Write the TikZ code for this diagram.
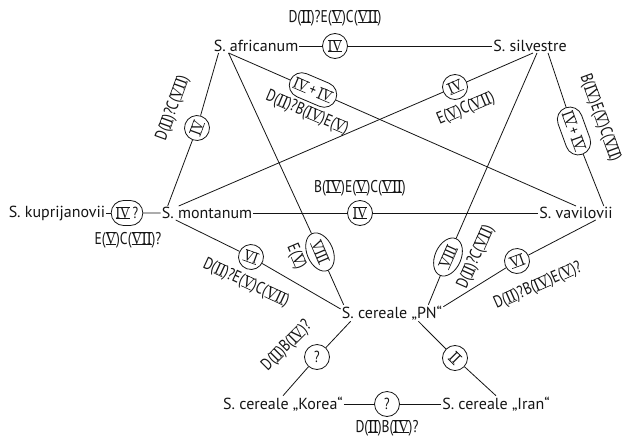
\documentclass[tikz,border=0pt]{standalone}
\usepackage{fontspec}
\setmainfont{PT Sans}
\newfontfamily\codefont[FakeStretch=0.8]{PT Sans}
\newfontfamily\numfont[FakeStretch=0.85]{Liberation Serif}
\usepackage{tikz}
\usetikzlibrary{shapes.geometric,shapes.misc}
\definecolor{ink}{HTML}{151515}
\definecolor{paper}{HTML}{FFFFFF}
\newsavebox\rnbox
\newcommand{\rn}[1]{\sbox\rnbox{\numfont #1}%
  \rlap{\rule[-0.6pt]{\wd\rnbox}{0.6pt}}%
  \rlap{\rule[\ht\rnbox]{\wd\rnbox}{0.6pt}}\usebox\rnbox}
\tikzset{
  species/.style={inner sep=1pt,text=ink,font=\fontsize{16}{18}\selectfont},
  code/.style={inner sep=0pt,text=ink,font=\codefont\fontsize{17}{19}\selectfont},
  ring/.style={draw=ink,circle,line width=0.8pt,minimum size=25pt,inner sep=0pt,text=ink,font=\codefont\fontsize{16}{18}\selectfont},
  oval/.style={draw=ink,ellipse,line width=0.8pt,minimum width=40pt,minimum height=26pt,inner sep=0pt,text=ink,font=\codefont\fontsize{16}{18}\selectfont},
  pill/.style={draw=ink,rounded rectangle,line width=0.8pt,minimum height=25pt,inner xsep=3pt,inner ysep=0pt,text=ink,font=\codefont\fontsize{16}{18}\selectfont},
  link/.style={draw=ink,line width=0.8pt}
}

\begin{document}
\begin{tikzpicture}[x=1pt,y=-1pt]
  \fill[paper] (0,0) rectangle (623,439);
  \useasboundingbox (0,0) rectangle (623,439);
  % species
  \node[species] (afr) at (256,46) {S. africanum};
  \node[species] (sil) at (530,46) {S. silvestre};
  \node[species] (kup) at (57,213) {S. kuprijanovii};
  \node[species] (mon) at (207,213) {S. montanum};
  \node[species] (vav) at (576,213) {S. vavilovii};
  \node[species] (pn) at (392,313) {S. cereale „PN“};
  \node[species] (kor) at (283,404) {S. cereale „Korea“};
  \node[species] (iran) at (496,404) {S. cereale „Iran“};
  % genome marks on the links
  \node[ring] (c1) at (335,46) {\rn{IV}};
  \node[ring,rotate=70] (c2) at (197,128) {\rn{IV}};
  \node[oval,rotate=-67] (c3) at (320,252) {\rn{VIII}};
  \node[pill,rotate=-23] (c4) at (313,90) {\rn{IV}\,+\,\rn{IV}};
  \node[ring,rotate=23] (c5) at (455,87) {\rn{IV}};
  \node[oval,rotate=66] (c6) at (448,257) {\rn{VIII}};
  \node[pill,rotate=-70] (c7) at (574,131) {\rn{IV}\,+\,\rn{IV}};
  \node[pill] (c8) at (127,213) {\rn{IV}\,?};
  \node[ring] (c9) at (360,213) {\rn{IV}};
  \node[ring,rotate=-20] (c10) at (251,257) {\rn{VI}};
  \node[ring,rotate=20] (c11) at (517,261) {\rn{VI}};
  \node[ring] (c12) at (317,357) {?};
  \node[ring,rotate=-45] (c13) at (455,358) {\rn{II}};
  \node[ring] (c14) at (387,404) {?};
  % chromosome labels
  \node[code] (l1) at (335,18) {D(\rn{II})?E(\rn{V})C(\rn{VII})};
  \node[code,rotate=70] (l2) at (173,108) {D(\rn{II})?C(\rn{VII})};
  \node[code,rotate=-67] (l3) at (296,257) {E(\rn{V})};
  \node[code,rotate=-23] (l4) at (307,113) {D(\rn{II})?B(\rn{IV})E(\rn{V})};
  \node[code,rotate=23] (l5) at (466,109) {E(\rn{V})C(\rn{VII})};
  \node[code,rotate=66] (l6) at (476,257) {D(\rn{II})?C(\rn{VII})};
  \node[code,rotate=-70] (l7) at (600,118) {B(\rn{IV})E(\rn{V})C(\rn{VII})};
  \node[code] (l8) at (128,240) {E(\rn{V})C(\rn{VII})?};
  \node[code] (l9) at (360,188) {B(\rn{IV})E(\rn{V})C(\rn{VII})};
  \node[code,rotate=-25] (l10) at (246,283) {D(\rn{II})?E(\rn{V})C(\rn{VII})};
  \node[code,rotate=24] (l11) at (538,286) {D(\rn{II})?B(\rn{IV})E(\rn{V})?};
  \node[code,rotate=45] (l12) at (287,346) {D(\rn{II})B(\rn{IV})?};
  \node[code] (l14) at (387,428) {D(\rn{II})B(\rn{IV})?};
  % links
  \draw[link] (afr.east) -- (c1);
  \draw[link] (c1) -- (sil.west);
  \draw[link] ([xshift=6pt]afr.south west) -- (c2);
  \draw[link] (c2) -- ([xshift=7pt]mon.north west);
  \draw[link] ([xshift=16pt]afr.south west) -- (c3);
  \draw[link] (c3) -- ([xshift=3pt]pn.north west);
  \draw[link] ([xshift=16pt]afr.south west) -- (c4);
  \draw[link] (c4) -- (vav.north);
  \draw[link] ([xshift=3pt]sil.south) -- (c5);
  \draw[link] (c5) -- ([xshift=18pt]mon.north west);
  \draw[link] ([xshift=7pt]sil.south) -- (c6);
  \draw[link] (c6) -- ([xshift=-15pt]pn.north east);
  \draw[link] ([xshift=18pt]sil.south) -- (c7);
  \draw[link] (c7) -- ([xshift=-10pt]vav.north east);
  \draw[link] (kup.east) -- (c8);
  \draw[link] (c8) -- (mon.west);
  \draw[link] (mon.east) -- (c9);
  \draw[link] (c9) -- (vav.west);
  \draw[link] ([xshift=15pt]mon.south west) -- (c10);
  \draw[link] (c10) -- ([yshift=4pt]pn.west);
  \draw[link] ([yshift=-2pt]pn.north east) -- (c11);
  \draw[link] (c11) -- ([xshift=-18pt]vav.south east);
  \draw[link] ([xshift=10pt]pn.south west) -- (c12);
  \draw[link] (c12) -- (kor.north);
  \draw[link] ([xshift=-25pt]pn.south east) -- (c13);
  \draw[link] (c13) -- (iran.north);
  \draw[link] (kor.east) -- (c14);
  \draw[link] (c14) -- (iran.west);
\end{tikzpicture}
\end{document}
